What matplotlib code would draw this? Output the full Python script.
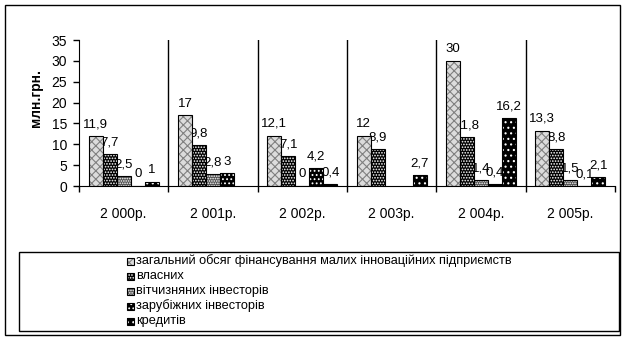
import matplotlib
matplotlib.use('Agg')
import matplotlib.pyplot as plt
from matplotlib.patches import Rectangle
import numpy as np

plt.rcParams['font.family'] = ['Liberation Sans', 'DejaVu Sans']
plt.rcParams['hatch.linewidth'] = 0.8

# financing of small innovative enterprises, mln UAH
years = ['2 000р.', '2 001р.', '2 002р.', '2 003р.', '2 004р.', '2 005р.']
series_names = ['загальний обсяг фінансування малих інноваційних підприємств',
                'власних',
                'вітчизняних інвесторів',
                'зарубіжних інвесторів',
                'кредитів']
total = [11.9, 17, 12.1, 12, 30, 13.3]
own = [7.7, 9.8, 7.1, 8.9, 11.8, 8.8]
domestic = [2.5, 2.8, 0, np.nan, 1.4, 1.5]
foreign = [0, 3, 4.2, np.nan, 0.4, 0.1]
credits = [1, np.nan, 0.4, 2.7, 16.2, 2.1]
series = [total, own, domestic, foreign, credits]

# (face, hatch colour, hatch) per series
styles = [('#dcdcdc', '#808080', 'xxxx'),
          ('black', 'white', '......'),
          ('#505050', 'white', '.......'),
          ('black', 'white', '....'),
          ('black', 'white', '...')]

W, H = 627, 341
fig = plt.figure(figsize=(W / 100, H / 100), dpi=100)

# frame and legend drawn in pixel coordinates
ov = fig.add_axes([0, 0, 1, 1], zorder=-1)
ov.set_xlim(0, W)
ov.set_ylim(H, 0)
ov.axis('off')
ov.add_patch(Rectangle((5, 5), 615, 330, fill=False, lw=1, ec='black'))
ov.add_patch(Rectangle((19, 252), 600, 79, fill=False, lw=1, ec='black'))
for k, (name, (fc, hc, hatch)) in enumerate(zip(series_names, styles)):
    ry = 261 + 15 * k
    ov.add_patch(Rectangle((127, ry - 3.5), 7, 7, fc=fc, ec=hc, hatch=hatch, lw=0))
    ov.add_patch(Rectangle((127, ry - 3.5), 7, 7, fill=False, ec='black', lw=0.8))
    ov.text(136, ry, name, fontsize=9.2, va='center', ha='left')

ax = fig.add_axes([79 / W, 1 - 186 / H, (615 - 79) / W, (186 - 40) / H])
ax.set_facecolor('none')

x = np.arange(len(years))
w = 0.157
for i, (vals, (fc, hc, hatch)) in enumerate(zip(series, styles)):
    xs = x + (i - 2) * w
    ax.bar(xs, vals, w, color=fc, edgecolor=hc, hatch=hatch, linewidth=0, zorder=2)
    ax.bar(xs, vals, w, fill=False, edgecolor='black', linewidth=0.8, zorder=3)
    # value labels sit behind the bars, so neighbours may cover them
    for xi, v in zip(xs, vals):
        if np.isnan(v):
            continue
        ax.annotate(f'{v:g}'.replace('.', ','), (xi, v), xytext=(0, 4),
                    textcoords='offset points', ha='center', va='bottom',
                    fontsize=9.5, zorder=1)

for b in np.arange(0.5, 5, 1):
    ax.axvline(b, color='black', lw=1, zorder=4)

ax.set_xlim(-0.5, 5.5)
ax.set_ylim(0, 35)
ax.set_yticks(range(0, 36, 5))
ax.set_xticks(x, years)
ax.set_xticks(np.arange(-0.5, 6, 1), minor=True)
ax.tick_params(axis='x', which='major', length=0, pad=15, labelsize=10)
ax.tick_params(axis='x', which='minor', length=4, width=1, direction='out')
ax.tick_params(axis='y', length=4.5, width=1, labelsize=10, pad=4)
ax.spines[['top', 'right']].set_visible(False)

fig.text(36 / W, 1 - 98 / H, 'млн.грн.', rotation=90, fontweight='bold',
         fontsize=10, ha='center', va='center')

fig.savefig('out.png', dpi=100)
